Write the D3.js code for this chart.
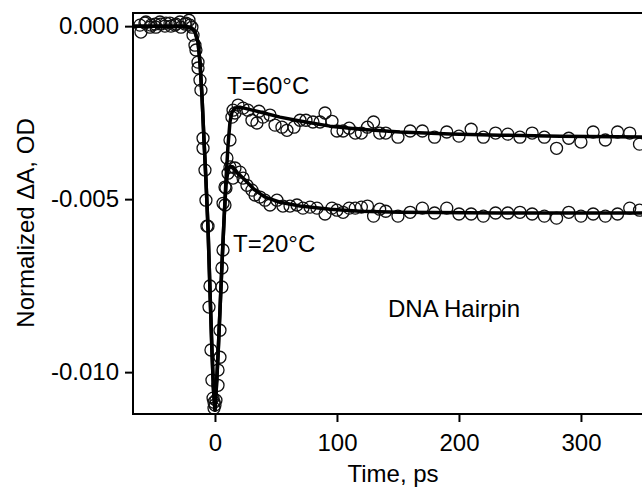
<!DOCTYPE html>
<html>
<head>
<meta charset="utf-8">
<script src="https://cdn.jsdelivr.net/npm/d3@7.8.5/dist/d3.min.js"></script>
<style>
  html, body { margin: 0; padding: 0; background: #fff; }
  svg { display: block; font-family: Arial, "Liberation Sans", sans-serif; }
</style>
</head>
<body>
<svg id="chart" width="642" height="489"></svg>
<script>
// Time axis (ps) and absorbance change (OD)
const xTicks = [0, 100, 200, 300];
const yTicks = [0, -0.005, -0.010];

// T = 60 °C measured points
const t60 = [-61.5, -57.4, -53.3, -49.2, -45.1, -41, -36.9, -32.8, -28.7, -24.6, -21.3, -18.9,
  -16.4, -13.9, -11.5, -9.8, -7.4, -5.7, -4.1, -2.5, -0.8, 0,
  2.5, 4.1, 5.7, 6.6, 8.2, 9.8, 12.3, 13.9, 14.8, 16.4, 18.9,
  23, 27, 30.3, 34.4, 36.1, 39.3, 45.1, 49.2, 54.9, 59, 64.8, 69.7, 74.6, 80.3, 86.1, 90.2, 95.9,
  100, 105, 110, 115, 120, 125, 130, 135, 140,
  150, 160, 170, 180, 190, 200, 210, 220, 230, 240, 250, 260, 270, 280, 290, 300, 310, 320, 330, 340, 348];
const a60 = [0.00003, 0.00009, -0.00003, 0.00006, 0.00012, 0.00000, 0.00009, 0.00003, 0.00012, 0.00006, 0.00017, -0.00003,
  -0.00055, -0.00104, -0.00185, -0.00324, -0.00503, -0.00578, -0.00751, -0.01023, -0.01087, -0.01095,
  -0.01038, -0.00957, -0.00699, -0.00512, -0.00465, -0.00381, -0.00329, -0.00263, -0.00243, -0.00251, -0.00228,
  -0.00237, -0.00243, -0.00272, -0.00280, -0.00246, -0.00263, -0.00257, -0.00286, -0.00292, -0.00301, -0.00292, -0.00272, -0.00272, -0.00277, -0.00277, -0.00251, -0.00275,
  -0.00303, -0.00303, -0.00295, -0.00309, -0.00309, -0.00292, -0.00277, -0.00309, -0.00309,
  -0.00321, -0.00303, -0.00303, -0.00321, -0.00306, -0.00318, -0.00298, -0.00321, -0.00309, -0.00312, -0.00321, -0.00309, -0.00321, -0.00353, -0.00324, -0.00335, -0.00306, -0.00329, -0.00306, -0.00309, -0.00341];

// T = 20 °C measured points
const t20 = [-60.7, -56.6, -52.5, -48.4, -44.3, -40.2, -36.1, -32, -27.9, -23.8, -20.5, -18,
  -15.6, -13.9, -12.3, -9.8, -8.2, -6.6, -4.9, -3.3, -1.6, -0.8,
  0.8, 2.5, 4.1, 5.7, 6.6, 8.2, 9, 10.7, 12.3, 14.8, 16.4, 20.5, 23, 26.2, 30.3, 32.8, 36.9, 41, 45.1, 50.8, 55.7, 61.5, 67.2, 72.1, 77.9, 83.6, 90.2, 95.9,
  100, 105, 110, 115, 120, 125, 130, 135, 140,
  150, 160, 170, 180, 190, 200, 210, 220, 230, 240, 250, 260, 270, 280, 290, 300, 310, 320, 330, 340, 348];
const a20 = [-0.00017, 0.00012, 0.00003, -0.00003, 0.00006, 0.00009, 0.00000, 0.00006, -0.00003, 0.00009, 0.00003, -0.00026,
  -0.00069, -0.00121, -0.00156, -0.00353, -0.00416, -0.00578, -0.00812, -0.00936, -0.01075, -0.01104,
  -0.01081, -0.00994, -0.00879, -0.00754, -0.00647, -0.00517, -0.00468, -0.00425, -0.00407, -0.00439, -0.00410, -0.00422, -0.00439, -0.00460, -0.00474, -0.00488, -0.00494, -0.00503, -0.00517, -0.00503, -0.00520, -0.00520, -0.00517, -0.00526, -0.00523, -0.00526, -0.00543, -0.00526,
  -0.00532, -0.00538, -0.00526, -0.00526, -0.00523, -0.00520, -0.00549, -0.00529, -0.00535,
  -0.00549, -0.00538, -0.00526, -0.00540, -0.00526, -0.00543, -0.00543, -0.00549, -0.00540, -0.00540, -0.00538, -0.00543, -0.00549, -0.00555, -0.00538, -0.00549, -0.00543, -0.00549, -0.00543, -0.00526, -0.00532];

// fitted curves
const fit60t = [-67.2, -24.6, -18.9, -16.4, -13.9, -12.3, -10.7, -9.0, -7.4, -5.7, -4.1, -2.5, -1.2, 0,
  0.8, 2.5, 4.1, 5.7, 7.4, 9.0, 10.7, 12.3, 13.9, 16.4, 20.5, 36.9, 53.3, 69.7, 94.3, 118.9, 151.6, 192.6, 233.6, 282.8, 364.8];
const fit60a = [0, 0, -0.00006, -0.00017, -0.00046, -0.00104, -0.00199, -0.00329, -0.00445, -0.00584, -0.00763, -0.00936, -0.01052, -0.01110,
  -0.01066, -0.00951, -0.00821, -0.00691, -0.00561, -0.00445, -0.00344, -0.00277, -0.00249, -0.00237, -0.00234, -0.00248, -0.00263, -0.00274, -0.00289, -0.00298, -0.00306, -0.00312, -0.00315, -0.00318, -0.00321];
const fit20t = [-67.2, -24.6, -18.9, -16.4, -13.9, -12.3, -10.7, -9.0, -7.4, -5.7, -4.1, -2.5, -1.2, 0,
  0.8, 2.5, 4.1, 5.7, 7.4, 9.0, 10.7, 12.3, 14.8, 18.0, 24.6, 32.8, 41.0, 53.3, 69.7, 94.3, 118.9, 151.6, 233.6, 364.8];
const fit20a = [0, 0, -0.00006, -0.00017, -0.00046, -0.00104, -0.00199, -0.00329, -0.00445, -0.00584, -0.00763, -0.00936, -0.01052, -0.01110,
  -0.01066, -0.00951, -0.00821, -0.00691, -0.00561, -0.00460, -0.00416, -0.00405, -0.00407, -0.00422, -0.00445, -0.00474, -0.00494, -0.00509, -0.00520, -0.00529, -0.00535, -0.00538, -0.00540, -0.00540];

const svg = d3.select('#chart');
const plot = { left: 133, top: 13, right: 660, bottom: 414 };
const fontSize = '24px';

const x = d3.scaleLinear().domain([-67.2, 364.8]).range([plot.left, plot.right]);
const y = d3.scaleLinear().domain([0.00038, -0.01121]).range([plot.top, plot.bottom]);

svg.append('clipPath').attr('id', 'clip')
  .append('rect')
  .attr('x', plot.left).attr('y', plot.top)
  .attr('width', plot.right - plot.left).attr('height', plot.bottom - plot.top);

const g = svg.append('g').attr('clip-path', 'url(#clip)');

function drawSeries(ts, as, ft, fa) {
  const pts = ts.map((t, i) => [t, as[i]]);
  g.append('g').selectAll('circle')
    .data(pts)
    .enter()
    .append('circle')
    .attr('cx', d => x(d[0]))
    .attr('cy', d => y(d[1]))
    .attr('r', 6)
    .attr('fill', 'none')
    .attr('stroke', '#111')
    .attr('stroke-width', 1.3);

  const line = d3.line().x(d => x(d[0])).y(d => y(d[1]));
  g.append('path')
    .datum(ft.map((t, i) => [t, fa[i]]))
    .attr('d', line)
    .attr('fill', 'none')
    .attr('stroke', '#000')
    .attr('stroke-width', 3.5)
    .attr('stroke-linejoin', 'round');
}

drawSeries(t20, a20, fit20t, fit20a);
drawSeries(t60, a60, fit60t, fit60a);

// frame
svg.append('rect')
  .attr('x', plot.left).attr('y', plot.top)
  .attr('width', plot.right - plot.left).attr('height', plot.bottom - plot.top)
  .attr('fill', 'none')
  .attr('stroke', '#000')
  .attr('stroke-width', 2);

// axes
const xAxis = d3.axisBottom(x).tickValues(xTicks).tickSize(8).tickPadding(12).tickFormat(d3.format('d'));
const yAxis = d3.axisLeft(y).tickValues(yTicks).tickSize(8).tickPadding(6).tickFormat(d3.format('.3f'));

const gx = svg.append('g').attr('transform', `translate(0,${plot.bottom})`).call(xAxis);
const gy = svg.append('g').attr('transform', `translate(${plot.left},0)`).call(yAxis);

[gx, gy].forEach(a => {
  a.select('.domain').remove();
  a.selectAll('line').attr('stroke', '#000').attr('stroke-width', 2);
  a.selectAll('text').attr('fill', '#000').style('font-size', fontSize);
});
gy.selectAll('text').text(d => d3.format('.3f')(d).replace('−', '-'));

// labels
svg.append('text')
  .attr('x', 393).attr('y', 482)
  .attr('text-anchor', 'middle')
  .style('font-size', fontSize)
  .text('Time, ps');

svg.append('text')
  .attr('transform', 'translate(34,223) rotate(-90)')
  .attr('text-anchor', 'middle')
  .style('font-size', fontSize)
  .text('Normalized ΔA, OD');

svg.append('text').attr('x', 227).attr('y', 94).style('font-size', fontSize).text('T=60°C');
svg.append('text').attr('x', 233).attr('y', 252).style('font-size', fontSize).text('T=20°C');
svg.append('text').attr('x', 388).attr('y', 317).style('font-size', fontSize).text('DNA Hairpin');
</script>
</body>
</html>
